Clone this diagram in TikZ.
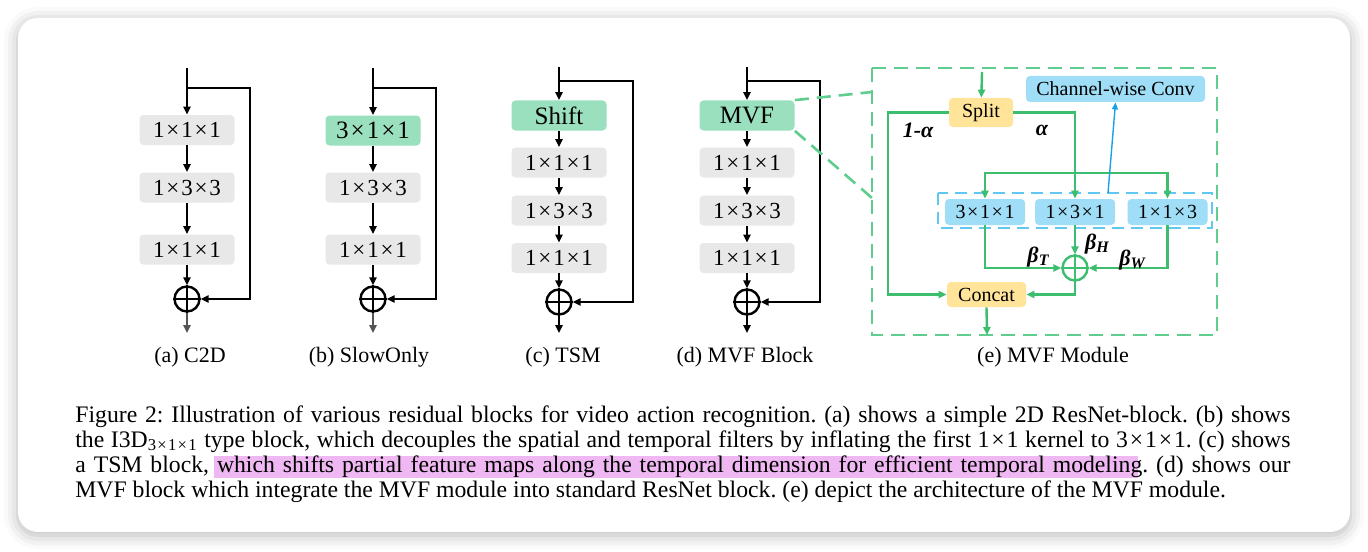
\documentclass[tikz,border=0pt]{standalone}
\usepackage{fontspec}
\setmainfont{Liberation Serif}
\usetikzlibrary{arrows.meta,shadows.blur,calc}
\definecolor{boxgray}{RGB}{232,232,232}
\definecolor{boxgreen}{RGB}{155,224,190}
\definecolor{boxyellow}{RGB}{255,228,154}
\definecolor{boxblue}{RGB}{160,221,247}
\definecolor{lgreen}{RGB}{61,189,110}
\definecolor{dgreen}{RGB}{94,205,141}
\definecolor{dblue}{RGB}{96,200,240}
\definecolor{lblue}{RGB}{26,160,232}
\definecolor{hlpink}{RGB}{240,184,242}
\definecolor{outgray}{RGB}{85,85,85}
\tikzset{
  kbox/.style={fill=boxgray, rounded corners=2pt, minimum width=47.5pt, minimum height=15pt, inner sep=0pt, font=\fontsize{11.5}{13}\selectfont},
  gbox/.style={kbox, fill=boxgreen, font=\fontsize{12.5}{14}\selectfont},
  arr/.style={draw=black, line width=1pt, -{Triangle[length=4pt,width=3.6pt]}},
  garr/.style={draw=outgray, line width=1pt, -{Triangle[length=4pt,width=3.6pt]}},
  plusnode/.style={circle, draw=black, line width=1.2pt, minimum size=12.5pt, inner sep=0pt},
  captxt/.style={font=\fontsize{11}{13}\selectfont, anchor=base},
  mbox/.style={rounded corners=2pt, minimum width=40pt, minimum height=13pt, inner sep=0pt, font=\fontsize{10}{12}\selectfont},
  marr/.style={draw=lgreen, line width=1.2pt, -{Triangle[length=4pt,width=3.6pt]}},
  zoomdash/.style={draw=dgreen, line width=1.3pt, dash pattern=on 7pt off 4pt},
  lab/.style={font=\fontsize{11}{13}\selectfont\bfseries\itshape, inner sep=0pt},
}
\newcommand{\X}{\kern0.08em×\kern0.08em}
\begin{document}
\begin{tikzpicture}[x=0.5pt,y=-0.5pt]
\useasboundingbox (0,0) rectangle (1368,551);
% card
\fill[white, rounded corners=10pt, blur shadow={shadow xshift=0pt, shadow yshift=-1.5pt, shadow blur radius=7pt, shadow opacity=30}] (18,18) rectangle (1350,532);

% ---------- (a) C2D
\coordinate (a0) at (187,68);
\coordinate (ab) at (187,88);
\coordinate (ar) at (250,88);
\node[kbox] (a1) at (187,130) {1\X1\X1};
\node[kbox] (a2) at (187,187.5) {1\X3\X3};
\node[kbox] (a3) at (187,249.5) {1\X1\X1};
\node[plusnode] (ap) at (187,299) {};
\draw[line width=1.2pt] (ap.north) -- (ap.south) (ap.west) -- (ap.east);
\coordinate (ao) at (187,333);
\draw[arr] (a0) -- (a1);
\draw[arr] (a1) -- (a2);
\draw[arr] (a2) -- (a3);
\draw[arr] (a3) -- (ap);
\draw[arr] (ab) -- (ar) |- (ap.east);
\draw[garr] (ap) -- (ao);
\node[captxt] (acap) at (190,362) {(a) C2D};

% ---------- (b) SlowOnly
\coordinate (b0) at (373,68);
\coordinate (bb) at (373,88);
\coordinate (br) at (436,88);
\node[gbox] (b1) at (373,130.5) {3\X1\X1};
\node[kbox] (b2) at (373,187.5) {1\X3\X3};
\node[kbox] (b3) at (373,249.5) {1\X1\X1};
\node[plusnode] (bp) at (373,299) {};
\draw[line width=1.2pt] (bp.north) -- (bp.south) (bp.west) -- (bp.east);
\coordinate (bo) at (373,333);
\draw[arr] (b0) -- (b1);
\draw[arr] (b1) -- (b2);
\draw[arr] (b2) -- (b3);
\draw[arr] (b3) -- (bp);
\draw[arr] (bb) -- (br) |- (bp.east);
\draw[garr] (bp) -- (bo);
\node[captxt] (bcap) at (369,362) {(b) SlowOnly};

% ---------- (c) TSM
\coordinate (c0) at (559,67);
\coordinate (cb) at (559,81);
\coordinate (cr) at (633,81);
\node[gbox] (c1) at (559,115.5) {Shift};
\node[kbox] (c2) at (559,162.5) {1\X1\X1};
\node[kbox] (c3) at (559,210.5) {1\X3\X3};
\node[kbox] (c4) at (559,258) {1\X1\X1};
\node[plusnode] (cp) at (559,302) {};
\draw[line width=1.2pt] (cp.north) -- (cp.south) (cp.west) -- (cp.east);
\coordinate (co) at (559,333);
\draw[arr] (c0) -- (c1);
\draw[arr] (c1) -- (c2);
\draw[arr] (c2) -- (c3);
\draw[arr] (c3) -- (c4);
\draw[arr] (c4) -- (cp);
\draw[arr] (cb) -- (cr) |- (cp.east);
\draw[arr] (cp) -- (co);
\node[captxt] (ccap) at (563,362) {(c) TSM};

% ---------- (d) MVF Block
\coordinate (d0) at (747,67);
\coordinate (db) at (747,81);
\coordinate (dr) at (820,81);
\node[gbox] (d1) at (747,115.5) {MVF};
\node[kbox] (d2) at (747,162.5) {1\X1\X1};
\node[kbox] (d3) at (747,210.5) {1\X3\X3};
\node[kbox] (d4) at (747,258) {1\X1\X1};
\node[plusnode] (dp) at (747,302) {};
\draw[line width=1.2pt] (dp.north) -- (dp.south) (dp.west) -- (dp.east);
\coordinate (do) at (747,333);
\draw[arr] (d0) -- (d1);
\draw[arr] (d1) -- (d2);
\draw[arr] (d2) -- (d3);
\draw[arr] (d3) -- (d4);
\draw[arr] (d4) -- (dp);
\draw[arr] (db) -- (dr) |- (dp.east);
\draw[arr] (dp) -- (do);
\node[captxt] (dcap) at (745,362) {(d) MVF Block};

% ---------- zoom lines
\coordinate (z1) at (872,92);
\coordinate (z2) at (872,198);
\draw[zoomdash] (d1.north east) -- (z1);
\draw[zoomdash] (d1.south east) -- (z2);
\draw[zoomdash] (872,68) rectangle (1217,335);

% ---------- (e) MVF Module
\draw[draw=dblue, line width=1.3pt, dash pattern=on 6pt off 3.5pt] (938,193) rectangle (1212,228);
\node[mbox, fill=boxyellow, minimum width=32pt, minimum height=14.5pt] (split) at (981,112.5) {Split};
\node[mbox, fill=boxblue, minimum width=89.5pt] (cwc) at (1115.5,89) {Channel-wise Conv};
\node[mbox, fill=boxblue] (m1) at (985,212) {3\X1\X1};
\node[mbox, fill=boxblue] (m2) at (1075,212) {1\X3\X1};
\node[mbox, fill=boxblue] (m3) at (1167.5,212) {1\X1\X3};
\node[plusnode, draw=lgreen, minimum size=12.5pt] (mp) at (1075,268) {};
\draw[lgreen, line width=1.2pt] (mp.north) -- (mp.south) (mp.west) -- (mp.east);
\node[mbox, fill=boxyellow, minimum width=39.5pt, minimum height=12.5pt] (concat) at (986.5,294.5) {Concat};
\coordinate (min) at (982,72);
\coordinate (mbr) at (1075,173);
\coordinate (mleft) at (888,112.5);
\coordinate (mout) at (987,335);
\coordinate (bsrc) at (1108,193);
\draw[marr] (min) -- (split);
\draw[marr] (split.west) -- (mleft) |- (concat.west);
\draw[marr] (split.east) -| (m2.north);
\draw[marr] (mbr) -| (m1.north);
\draw[marr] (mbr) -| (m3.north);
\draw[marr] (m1.south) |- (mp.west);
\draw[marr] (m3.south) |- (mp.east);
\draw[marr] (m2.south) -- (mp.north);
\draw[marr] (mp.south) |- (concat.east);
\draw[marr] (concat.south) -- (mout);
\draw[draw=lblue, line width=0.7pt, -{Triangle[length=3.5pt,width=3pt]}] (bsrc) -- (cwc.south);
\node[lab] (l1) at (918,130) {1-α};
\node[lab] (l2) at (1042,130) {α};
\node[lab] (l3) at (1038,257) {β\raisebox{-0.35ex}{\fontsize{8}{9}\selectfont T}};
\node[lab] (l4) at (1097,244) {β\raisebox{-0.35ex}{\fontsize{8}{9}\selectfont H}};
\node[lab] (l5) at (1132,260) {β\raisebox{-0.35ex}{\fontsize{8}{9}\selectfont W}};
\node[captxt] (ecap) at (1053,362) {(e) MVF Module};

% ---------- caption
\fill[hlpink] (214,456) rectangle (1138,478);
\node[anchor=north west, inner sep=0pt, align=left, font=\fontsize{11.85}{12.6}\selectfont\frenchspacing] (caption) at (75,405) {%
\makebox[607.5pt][s]{Figure 2: Illustration of various residual blocks for video action recognition. (a) shows a simple 2D ResNet-block. (b) shows}\\
\makebox[607.5pt][s]{the I3D\textsubscript{3\X1\X1} type block, which decouples the spatial and temporal filters by inflating the first 1\X1 kernel to 3\X1\X1. (c) shows}\\
\makebox[607.5pt][s]{a TSM block, which shifts partial feature maps along the temporal dimension for efficient temporal modeling. (d) shows our}\\
MVF block which integrate the MVF module into standard ResNet block. (e) depict the architecture of the MVF module.};
\end{tikzpicture}
\end{document}
